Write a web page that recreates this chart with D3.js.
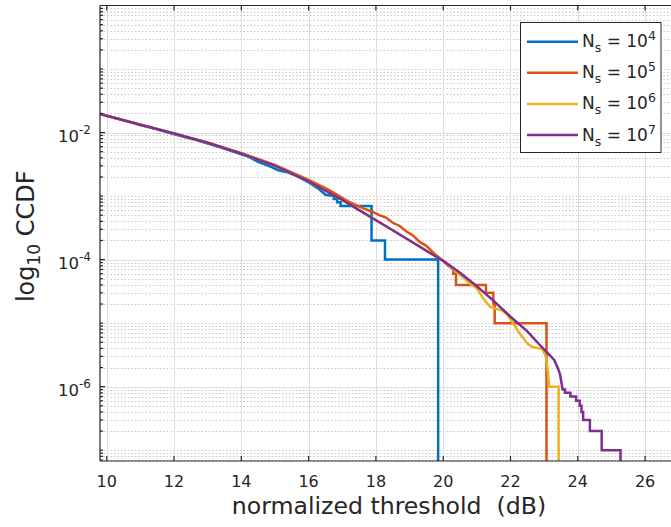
<!DOCTYPE html>
<html>
<head>
<meta charset="utf-8">
<script src="https://cdn.jsdelivr.net/npm/d3@7"></script>
<style>
  body { margin: 0; background: #fff; }
  svg { display: block; }
  text { font-family: "DejaVu Sans", sans-serif; fill: #262626; }
</style>
</head>
<body>
<svg id="chart" width="671" height="527"></svg>
<script>
// Empirical CCDF of the normalized threshold for four sample counts N_s.
const sampleExponents = [4, 5, 6, 7];
const seriesColors = ["#0072BD", "#D95319", "#EDB120", "#7E2F8E"];

// N_s = 10^4
const ns4X = [9.8, 10.3, 10.8, 11.0, 11.3, 11.8, 12.2, 12.6, 13.0, 13.4, 13.8, 14.2, 14.5, 14.7, 14.9, 15.1, 15.4, 15.7, 16.0, 16.3, 16.5,
              16.75, 16.75, 16.85, 16.85, 16.95, 16.95, 17.87, 17.87, 18.27, 18.27, 19.85, 19.85];
const ns4Y = [1.97e-2, 1.66e-2, 1.42e-2, 1.30e-2, 1.21e-2, 1.01e-2, 8.8e-3, 7.8e-3, 6.7e-3, 5.8e-3, 4.95e-3, 4.2e-3, 3.45e-3, 3.15e-3, 2.85e-3, 2.55e-3, 2.35e-3, 2.0e-3, 1.65e-3, 1.3e-3, 1.05e-3,
              1.0e-3, 9e-4, 9e-4, 8e-4, 8e-4, 7e-4, 7e-4, 2e-4, 2e-4, 1e-4, 1e-4, 0];

// N_s = 10^5
const ns5X = [9.8, 11, 12, 13, 14, 15, 16, 16.6, 17.2, 17.5, 17.7, 17.92, 18.1, 18.3, 18.5, 18.7, 18.9, 19.1, 19.3, 19.5, 19.7, 19.9,
              20.0, 20.15, 20.3, 20.3, 20.38, 20.38, 21.27, 21.27, 21.49, 21.49, 21.53, 21.53, 23.07, 23.07];
const ns5Y = [1.97e-2, 1.33e-2, 9.7e-3, 6.95e-3, 4.75e-3, 3.1e-3, 1.8e-3, 1.25e-3, 8.1e-4, 6.9e-4, 6.2e-4, 5.6e-4, 5.0e-4, 4.6e-4, 3.8e-4, 3.4e-4, 2.8e-4, 2.4e-4, 1.9e-4, 1.65e-4, 1.3e-4, 1.05e-4,
              9.5e-5, 8e-5, 7e-5, 6e-5, 6e-5, 4e-5, 4e-5, 3e-5, 3e-5, 2e-5, 2e-5, 1e-5, 1e-5, 0];

// N_s = 10^6
const ns6X = [9.8, 11, 12, 13, 14, 15, 16, 17, 18, 19, 20, 20.8, 21.0, 21.2, 21.4, 21.6, 21.75, 21.9, 22.1, 22.3, 22.5, 22.65, 22.95,
              23.05, 23.1, 23.15, 23.43, 23.43];
const ns6Y = [1.97e-2, 1.33e-2, 9.66e-3, 6.92e-3, 4.7e-3, 3.03e-3, 1.71e-3, 8.7e-4, 4.2e-4, 2.0e-4, 9.6e-5, 4.2e-5, 3.5e-5, 2.4e-5, 1.8e-5, 1.66e-5, 1.58e-5, 1.38e-5, 9.5e-6, 6.6e-6, 4.8e-6, 4.2e-6, 3.9e-6,
              3.0e-6, 2.0e-6, 1.0e-6, 1.0e-6, 0];

// N_s = 10^7
const ns7X = [9.8, 10, 11, 12, 13, 14, 15, 16, 17, 17.5, 18, 18.5, 19, 19.5, 20, 20.5, 21, 21.5, 22, 22.5, 22.9, 23.1, 23.3, 23.4, 23.47, 23.55,
              23.62, 23.62, 23.78, 23.78, 23.95, 23.95, 24.06, 24.06, 24.11, 24.11, 24.16, 24.16, 24.36, 24.36, 24.71, 24.71, 25.27, 25.27];
const ns7Y = [1.97e-2, 1.84e-2, 1.33e-2, 9.66e-3, 6.92e-3, 4.68e-3, 3.02e-3, 1.70e-3, 8.71e-4, 6.0e-4, 4.17e-4, 2.9e-4, 2.0e-4, 1.38e-4, 9.55e-5, 6.2e-5, 3.8e-5, 2.24e-5, 1.26e-5, 7.41e-6, 4.37e-6, 3.39e-6, 2.63e-6, 2.0e-6, 1.58e-6, 9e-7,
              9e-7, 8e-7, 8e-7, 7e-7, 7e-7, 6e-7, 6e-7, 5e-7, 5e-7, 4e-7, 4e-7, 3e-7, 3e-7, 2e-7, 2e-7, 1e-7, 1e-7, 0];

const xTicks = [10, 12, 14, 16, 18, 20, 22, 24, 26];
const yTicks = [1e-6, 1e-4, 1e-2];
const xDomain = [9.8, 26.8];
const yDomain = [Math.pow(10, -7.17), 1];

const seriesX = [ns4X, ns5X, ns6X, ns7X];
const seriesY = [ns4Y, ns5Y, ns6Y, ns7Y];

const plot = { left: 100, right: 672, top: 5.5, bottom: 461 };
const svg = d3.select("#chart");

const x = d3.scaleLinear().domain(xDomain).range([plot.left, plot.right]);
const y = d3.scaleLog().domain(yDomain).range([plot.bottom, plot.top]);

svg.append("defs").append("clipPath").attr("id", "plotClip")
  .append("rect")
  .attr("x", plot.left).attr("y", plot.top)
  .attr("width", plot.right - plot.left).attr("height", plot.bottom - plot.top);

// Minor decade grid (dotted) and major grid (solid)
const allLogTicks = y.ticks();
const minorTicks = allLogTicks.filter(v => !yTicks.some(t => Math.abs(t - v) / t < 1e-9) && v < 0.999);
const grid = svg.append("g");
grid.selectAll(".ymin").data(minorTicks).join("line")
  .attr("x1", plot.left).attr("x2", plot.right)
  .attr("y1", d => Math.round(y(d)) + 0.5).attr("y2", d => Math.round(y(d)) + 0.5)
  .attr("stroke", "#c8c8c8").attr("stroke-width", 1).attr("stroke-dasharray", "1.5,2");
grid.selectAll(".ymaj").data(yTicks).join("line")
  .attr("x1", plot.left).attr("x2", plot.right)
  .attr("y1", d => Math.round(y(d)) + 0.5).attr("y2", d => Math.round(y(d)) + 0.5)
  .attr("stroke", "#dedede").attr("stroke-width", 1);
grid.selectAll(".xmaj").data(xTicks).join("line")
  .attr("x1", d => Math.round(x(d)) + 0.5).attr("x2", d => Math.round(x(d)) + 0.5)
  .attr("y1", plot.top).attr("y2", plot.bottom)
  .attr("stroke", "#dedede").attr("stroke-width", 1);

// Curves
const line = d3.line()
  .x(d => x(d[0]))
  .y(d => d[1] > 0 ? y(d[1]) : plot.bottom + 10);

const curves = svg.append("g").attr("clip-path", "url(#plotClip)");
seriesX.forEach((xs, i) => {
  const pts = xs.map((v, j) => [v, seriesY[i][j]]);
  curves.append("path")
    .datum(pts)
    .attr("d", line)
    .attr("fill", "none")
    .attr("stroke", seriesColors[i])
    .attr("stroke-width", 2.5)
    .attr("stroke-linejoin", "miter");
});

// Axes frame and ticks
const axes = svg.append("g").attr("stroke", "#262626").attr("stroke-width", 1.2);
axes.append("line").attr("x1", plot.left).attr("x2", plot.left).attr("y1", plot.top).attr("y2", plot.bottom);
axes.append("line").attr("x1", plot.left).attr("x2", plot.right).attr("y1", plot.bottom).attr("y2", plot.bottom);
axes.append("line").attr("x1", plot.left).attr("x2", plot.right).attr("y1", plot.top).attr("y2", plot.top);

axes.selectAll(".xtb").data(xTicks).join("line")
  .attr("x1", d => x(d)).attr("x2", d => x(d))
  .attr("y1", plot.bottom).attr("y2", plot.bottom - 5);
axes.selectAll(".xtt").data(xTicks).join("line")
  .attr("x1", d => x(d)).attr("x2", d => x(d))
  .attr("y1", plot.top).attr("y2", plot.top + 5);
axes.selectAll(".ytm").data(yTicks).join("line")
  .attr("x1", plot.left).attr("x2", plot.left + 5)
  .attr("y1", d => y(d)).attr("y2", d => y(d));
axes.selectAll(".ytn").data(minorTicks).join("line")
  .attr("x1", plot.left).attr("x2", plot.left + 3)
  .attr("y1", d => y(d)).attr("y2", d => y(d));

// Tick labels
svg.append("g").selectAll("text").data(xTicks).join("text")
  .attr("x", d => x(d)).attr("y", 487)
  .attr("text-anchor", "middle").attr("font-size", 16)
  .text(d => d);

const yl = svg.append("g").selectAll("text").data(yTicks).join("text")
  .attr("x", 91).attr("y", d => y(d) + 9)
  .attr("text-anchor", "end").attr("font-size", 16.5);
yl.append("tspan").text("10");
yl.append("tspan").attr("dy", -8).attr("font-size", 12).text(d => "-" + Math.round(-Math.log10(d)));

// Axis titles
svg.append("text")
  .attr("x", 389).attr("y", 514)
  .attr("text-anchor", "middle").attr("font-size", 23.6)
  .attr("xml:space", "preserve")
  .text("normalized threshold  (dB)");

const ylab = svg.append("text")
  .attr("transform", `translate(34,${(plot.top + plot.bottom) / 2 + 3}) rotate(-90)`)
  .attr("text-anchor", "middle").attr("font-size", 24);
ylab.append("tspan").text("log");
ylab.append("tspan").attr("dy", 6).attr("font-size", 17).text("10");
ylab.append("tspan").attr("dy", -6).text(" CCDF");

// Legend
const legend = svg.append("g");
legend.append("rect")
  .attr("x", 520.5).attr("y", 22.5).attr("width", 140.5).attr("height", 130)
  .attr("fill", "#fff").attr("stroke", "#262626").attr("stroke-width", 1);
const rowY = d3.scaleLinear().domain([0, 3]).range([41.7, 135]);
sampleExponents.forEach((e, i) => {
  legend.append("line")
    .attr("x1", 527).attr("x2", 578)
    .attr("y1", rowY(i)).attr("y2", rowY(i))
    .attr("stroke", seriesColors[i]).attr("stroke-width", 2.5);
  const t = legend.append("text")
    .attr("x", 582).attr("y", rowY(i) + 5.5).attr("font-size", 17)
    .attr("xml:space", "preserve");
  t.append("tspan").text("N");
  t.append("tspan").attr("dy", 5).attr("font-size", 12.5).text("s");
  t.append("tspan").attr("dy", -5).text(" = 10");
  t.append("tspan").attr("dy", -7).attr("font-size", 12.5).text(e);
});
</script>
</body>
</html>
